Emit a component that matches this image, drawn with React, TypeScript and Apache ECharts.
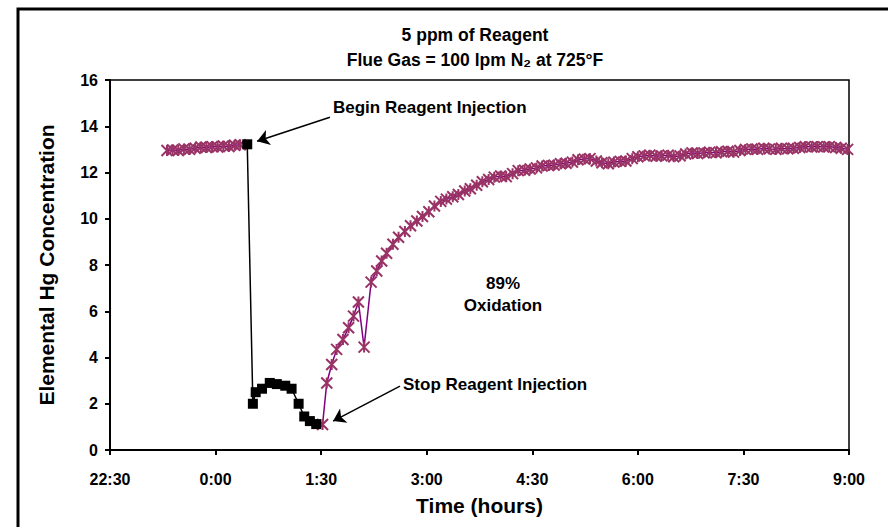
import React, { useEffect, useRef } from 'react';
import * as echarts from 'echarts';

// Tick labels of the time axis (every 1.5 h, counted from 22:30)
const timeLabels = ['22:30', '0:00', '1:30', '3:00', '4:30', '6:00', '7:30', '9:00'];

// Hours after 22:30 / elemental Hg concentration — baseline before injection
const baselineHours = [0.81, 0.89, 0.97, 1.05, 1.13, 1.21, 1.29, 1.37, 1.45, 1.53, 1.61, 1.69, 1.77, 1.85];
const baselineValues = [12.95, 12.98, 12.95, 13.02, 13.0, 13.05, 13.1, 13.08, 13.12, 13.1, 13.15, 13.12, 13.18, 13.2];

// During reagent injection (black squares)
const injectionHours = [1.95, 2.03, 2.07, 2.16, 2.27, 2.37, 2.49, 2.58, 2.68, 2.76, 2.84, 2.93];
const injectionValues = [13.22, 2.0, 2.5, 2.65, 2.9, 2.85, 2.78, 2.65, 2.0, 1.45, 1.25, 1.12];

// Recovery after injection stopped
const recoveryHours = [
  3.02, 3.08, 3.15, 3.22, 3.31, 3.39, 3.46, 3.53, 3.61, 3.71, 3.79, 3.86, 3.93, 4.02,
  4.10, 4.19, 4.27, 4.36, 4.44, 4.53, 4.61, 4.70, 4.78, 4.87, 4.95, 5.04, 5.12, 5.21, 5.29, 5.38, 5.46,
  5.55, 5.63, 5.72, 5.80, 5.89, 5.97, 6.06, 6.14, 6.23, 6.31, 6.40, 6.48, 6.57, 6.65, 6.74, 6.82,
  6.91, 6.99, 7.08, 7.16, 7.25, 7.33, 7.42, 7.50, 7.59, 7.67, 7.76, 7.84, 7.93, 8.01, 8.10, 8.18,
  8.27, 8.35, 8.44, 8.52, 8.61, 8.69, 8.78, 8.86, 8.95, 9.03, 9.12, 9.20, 9.29, 9.37, 9.46, 9.54,
  9.63, 9.71, 9.80, 9.88, 9.97, 10.05, 10.14, 10.22, 10.31, 10.39, 10.48,
];
const recoveryValues = [
  1.1, 2.9, 3.7, 4.35, 4.78, 5.29, 5.79, 6.4, 4.45, 7.26, 7.74, 8.17, 8.51, 8.9,
  9.2, 9.45, 9.7, 9.9, 10.1, 10.3, 10.55, 10.75, 10.85, 10.95, 11.05, 11.2, 11.3, 11.45, 11.6, 11.7, 11.8,
  11.85, 11.82, 11.95, 12.08, 12.1, 12.15, 12.2, 12.28, 12.3, 12.32, 12.38, 12.4, 12.45, 12.55, 12.58, 12.6,
  12.5, 12.42, 12.38, 12.45, 12.48, 12.5, 12.6, 12.68, 12.72, 12.75, 12.7, 12.72, 12.75, 12.68, 12.72, 12.8,
  12.85, 12.82, 12.85, 12.88, 12.85, 12.9, 12.92, 12.88, 12.95, 13.0, 13.02, 13.0, 13.05, 13.02, 13.0, 13.05,
  13.02, 13.05, 13.08, 13.12, 13.1, 13.12, 13.1, 13.12, 13.08, 13.05, 13.0,
];

// Annotation arrows (data coordinates: [hours, concentration])
const beginArrow = [[3.125, 14.39], [2.09, 13.35]];
const stopArrow = [[4.12, 2.76], [3.17, 1.25]];

const FONT = '"Liberation Sans", Arial, sans-serif';
const STAR = 'path://M0,0L10,10M10,0L0,10M5,0L5,10';

const zip = (xs: number[], ys: number[]) => xs.map((x, i) => [x, ys[i]]);

export default function App() {
  const ref = useRef<HTMLDivElement>(null);

  useEffect(() => {
    if (!ref.current) return;
    const chart = echarts.init(ref.current, undefined, { renderer: 'svg' });

    const starSeries = (data: number[][]) => ({
      type: 'line',
      data,
      symbol: STAR,
      symbolSize: 11,
      showAllSymbol: true,
      itemStyle: { color: '#993366', borderColor: '#993366', borderWidth: 2 },
      lineStyle: { color: '#800080', width: 1.5 },
      z: 2,
    });

    chart.setOption({
      animation: false,
      backgroundColor: '#fff',
      title: {
        text: '5 ppm of Reagent\nFlue Gas = 100 lpm N₂ at 725°F',
        left: 470,
        top: 17,
        textAlign: 'center',
        textStyle: { fontFamily: FONT, fontWeight: 'bold', fontSize: 17.5, lineHeight: 25, color: '#000' },
      },
      grid: {
        left: 110,
        right: 39,
        top: 80,
        bottom: 77,
        show: true,
        borderColor: '#000',
        borderWidth: 1.5,
      },
      xAxis: {
        type: 'value',
        min: 0,
        max: 10.5,
        interval: 1.5,
        name: 'Time (hours)',
        nameLocation: 'middle',
        nameGap: 45,
        nameTextStyle: { fontFamily: FONT, fontWeight: 'bold', fontSize: 21, color: '#000' },
        axisLine: { lineStyle: { color: '#000', width: 2 } },
        axisTick: { show: true, inside: false, length: 5, lineStyle: { color: '#000', width: 2 } },
        splitLine: { show: false },
        axisLabel: {
          margin: 21,
          fontFamily: FONT,
          fontWeight: 'bold',
          fontSize: 16,
          color: '#000',
          formatter: (v: number) => timeLabels[Math.round(v / 1.5)] ?? '',
        },
      },
      yAxis: {
        type: 'value',
        min: 0,
        max: 16,
        interval: 2,
        name: 'Elemental Hg Concentration',
        nameLocation: 'middle',
        nameGap: 53,
        nameTextStyle: { fontFamily: FONT, fontWeight: 'bold', fontSize: 21, color: '#000' },
        axisLine: { show: true, lineStyle: { color: '#000', width: 2 } },
        axisTick: { show: true, inside: false, length: 5, lineStyle: { color: '#000', width: 2 } },
        splitLine: { show: false },
        axisLabel: { margin: 12, fontFamily: FONT, fontWeight: 'bold', fontSize: 16, color: '#000' },
      },
      series: [
        starSeries(zip(baselineHours, baselineValues)),
        starSeries(zip(recoveryHours, recoveryValues)),
        {
          type: 'line',
          data: zip(injectionHours, injectionValues),
          symbol: 'rect',
          symbolSize: 10,
          itemStyle: { color: '#000' },
          lineStyle: { color: '#000', width: 1.5 },
          z: 3,
          markLine: {
            silent: true,
            symbol: ['none', 'arrow'],
            symbolSize: 12,
            lineStyle: { color: '#000', width: 1.5, type: 'solid' },
            label: { show: false },
            emphasis: { disabled: true },
            data: [
              [{ coord: beginArrow[0] }, { coord: beginArrow[1] }],
              [{ coord: stopArrow[0] }, { coord: stopArrow[1] }],
            ],
          },
        },
      ],
      graphic: [
        {
          type: 'rect',
          shape: { x: 18, y: 9, width: 900, height: 600 },
          style: { fill: 'none', stroke: '#000', lineWidth: 3 },
          silent: true,
        },
        {
          type: 'text',
          x: 333,
          y: 107,
          style: { text: 'Begin Reagent Injection', font: `bold 17px ${FONT}`, fill: '#000', textVerticalAlign: 'middle' },
        },
        {
          type: 'text',
          x: 403,
          y: 384,
          style: { text: 'Stop Reagent Injection', font: `bold 17px ${FONT}`, fill: '#000', textVerticalAlign: 'middle' },
        },
        {
          type: 'text',
          x: 503,
          y: 283,
          style: { text: '89%', font: `bold 17px ${FONT}`, fill: '#000', textAlign: 'center', textVerticalAlign: 'middle' },
        },
        {
          type: 'text',
          x: 503,
          y: 305,
          style: { text: 'Oxidation', font: `bold 17px ${FONT}`, fill: '#000', textAlign: 'center', textVerticalAlign: 'middle' },
        },
      ],
    });

    return () => chart.dispose();
  }, []);

  return (
    <div
      ref={ref}
      style={{ position: 'fixed', left: 0, top: 0, width: 888, height: 527, background: '#fff' }}
    />
  );
}
